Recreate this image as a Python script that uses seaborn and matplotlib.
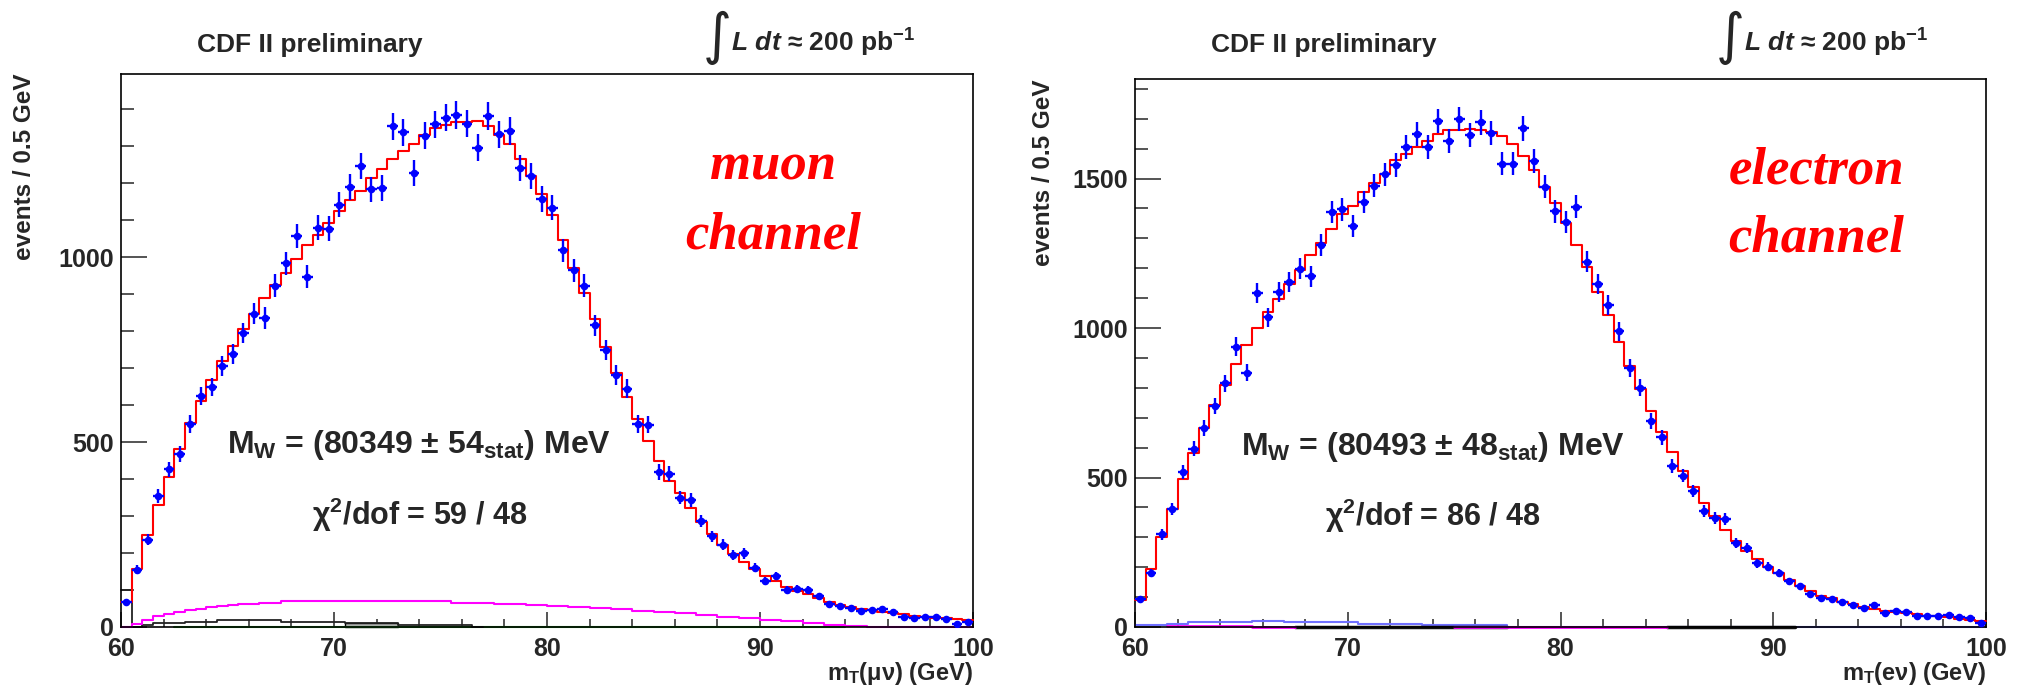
import numpy as np
import matplotlib
matplotlib.use("Agg")
import matplotlib.pyplot as plt
from matplotlib.ticker import MultipleLocator
from matplotlib.transforms import blended_transform_factory
import seaborn as sns

nan = np.nan

# 80 bins of 0.5 GeV in m_T, 60 - 100 GeV
edges = np.linspace(60, 100, 81)
centers = 0.5 * (edges[:-1] + edges[1:])

# ---- muon channel ----
mu_data = [67, 155, 236, 354, 426, 469, 549, 624, 649, 706,
           738, 795, 847, 835, 923, 983, 1058, 947, 1080, 1077,
           1141, 1190, 1247, 1183, 1187, 1354, 1337, 1227, 1328, 1359,
           1377, 1384, 1361, 1296, 1381, 1332, 1341, 1240, 1219, 1157,
           1134, 1018, 965, 923, 816, 748, 681, 644, 549, 547,
           419, 414, 350, 344, 287, 245, 223, 194, 199, 160,
           124, 138, 101, 104, 101, 83, 62, 57, 52, 43,
           45, 49, 41, 26, 24, 26, 26, 21, 8, 13]
mu_fit = [67, 157, 248, 331, 406, 481, 551, 611, 668, 719,
          761, 805, 847, 890, 924, 958, 996, 1032, 1061, 1092,
          1125, 1154, 1180, 1213, 1239, 1266, 1287, 1307, 1330, 1348,
          1356, 1364, 1364, 1368, 1354, 1330, 1306, 1265, 1219, 1170,
          1113, 1046, 970, 904, 833, 758, 688, 623, 561, 502,
          448, 396, 362, 321, 285, 251, 223, 197, 176, 157,
          137, 124, 109, 98, 90, 78, 67, 60, 54, 49,
          45, 41, 37, 34, 31, 28, 25, 23, 21, 19]
mu_magenta = [0, 9, 18, 29, 36, 41, 45, 50, 54, 57,
              60, 63, 63, 66, 66, 69, 69, 69, 69, 69,
              69, 69, 69, 69, 69, 69, 69, 69, 69, 69,
              69, 66, 66, 66, 66, 63, 63, 63, 59, 59,
              57, 57, 54, 54, 51, 51, 48, 48, 44, 44,
              40, 40, 37, 37, 33, 33, 28, 28, 24, 24,
              19, 19, 15, 15, 11, 11, 6, 6, 2, 2,
              1, 1, 1, 1, 1, 1, 1, 1, 1, 1]
mu_black = [100, 0, 5, 11, 11, 12, 14, 14, 14, 18,
            18, 18, 18, 18, 18, 14, 14, 14, 14, 14,
            14, 11, 11, 11, 11, 11, 6, 6, 6, 6,
            6, 6, 6, 0] + [nan] * 46
mu_gray = [nan] * 21 + [10, 10, 10, 10, 10] + [nan] * 54
mu_green = [nan] * 5 + [1] * 63 + [nan] * 12

# ---- electron channel ----
el_data = [92, 181, 310, 395, 519, 597, 666, 740, 816, 938,
           851, 1117, 1036, 1122, 1154, 1199, 1173, 1278, 1387, 1397,
           1342, 1422, 1476, 1514, 1546, 1607, 1649, 1605, 1693, 1626,
           1699, 1645, 1688, 1652, 1550, 1550, 1668, 1559, 1473, 1390,
           1355, 1406, 1222, 1148, 1078, 989, 867, 800, 689, 634,
           540, 506, 455, 389, 364, 361, 281, 265, 213, 202,
           179, 153, 136, 111, 98, 92, 83, 74, 64, 74,
           47, 55, 51, 38, 38, 38, 41, 32, 29, 15]
el_fit = [89, 195, 300, 395, 494, 583, 666, 742, 810, 880,
          944, 999, 1052, 1097, 1148, 1195, 1245, 1286, 1330, 1380,
          1409, 1454, 1486, 1514, 1562, 1582, 1607, 1626, 1648, 1662,
          1662, 1667, 1661, 1656, 1642, 1614, 1575, 1527, 1473, 1418,
          1352, 1279, 1205, 1122, 1043, 954, 874, 795, 724, 651,
          587, 523, 469, 415, 370, 325, 287, 255, 226, 202,
          179, 156, 138, 119, 105, 96, 85, 77, 68, 61,
          55, 51, 47, 42, 38, 36, 32, 28, 23, 19]
el_blue = [6, 6, 6, 10, 10, 16, 16, 16, 16, 16,
           16, 21, 21, 21, 16, 16, 16, 16, 16, 16,
           16, 11, 11, 11, 11, 11, 11, 6, 6, 6,
           6, 6, 6, 6, 6] + [1] * 45
el_magenta = [nan] * 3 + [3] * 8 + [1] * 4 + [nan] * 15 + [0] * 20 + [nan] * 30
el_black = [nan] * 15 + [0] * 20 + [nan] * 15 + [0] * 12 + [nan] * 18


def draw_steps(ax, values, color, lw, fill=False, zorder=2):
    """draw a (possibly partial) step histogram through seaborn"""
    vals = np.array(values, dtype=float)
    idx = np.flatnonzero(~np.isnan(vals))
    runs = np.split(idx, np.flatnonzero(np.diff(idx) > 1) + 1)
    for run in runs:
        if len(run) == 0:
            continue
        kw = dict(element="step", fill=fill, color=color, linewidth=lw,
                  ax=ax, zorder=zorder, clip_on=False)
        if fill:
            kw.update(alpha=1, edgecolor="black")
        sns.histplot(x=list(centers[run]), weights=list(vals[run]),
                     bins=list(edges[run[0]:run[-1] + 2]), **kw)


def draw_panel(fig, ax, data, fit, bkgs, ymax, yticks, words, words_x,
               mw_text, chi_text, xlabel, ylab_x):
    for vals, color, lw, fill in bkgs:
        draw_steps(ax, vals, color, lw, fill=fill, zorder=2)
    draw_steps(ax, fit, "#ff0000", 1.5, zorder=3)

    data = np.array(data, dtype=float)
    ax.errorbar(centers, data, xerr=0.25, yerr=np.sqrt(data), fmt="none",
                ecolor="#0000ff", elinewidth=1.7, capsize=0, zorder=4)
    sns.scatterplot(x=centers, y=data, color="#0000ff", s=30, linewidth=0,
                    ax=ax, zorder=5)

    ax.set_xlim(60, 100)
    ax.set_ylim(0, ymax)
    ax.set_xticks([60, 70, 80, 90, 100])
    ax.xaxis.set_minor_locator(MultipleLocator(2))
    ax.set_yticks(yticks)
    ax.yaxis.set_minor_locator(MultipleLocator(100))
    ax.tick_params(axis="x", which="major", direction="in", length=11, width=1.1,
                   labelsize=18, pad=7.5, top=False)
    ax.tick_params(axis="x", which="minor", direction="in", length=6, width=1.1, top=False)
    ax.tick_params(axis="y", which="major", direction="in", length=19, width=1.1,
                   labelsize=18, pad=5, right=False)
    ax.tick_params(axis="y", which="minor", direction="in", length=9.5, width=1.1, right=False)
    for s in ax.spines.values():
        s.set_visible(True)
        s.set_linewidth(1.2)
        s.set_color("black")
    ax.set_xlabel("")
    ax.set_ylabel("")

    ax.text(ylab_x, 1.0, "events / 0.5 GeV", rotation=90, ha="center", va="top",
            transform=ax.transAxes, fontsize=17.5, fontweight="bold")
    bt = blended_transform_factory(ax.transAxes, fig.transFigure)
    ax.text(1.0, 0.008, xlabel, ha="right", va="baseline", transform=bt,
            fontsize=17, fontweight="bold")

    for word, y in zip(words, (0.810, 0.685)):
        ax.text(words_x, y, word, transform=ax.transAxes, ha="center",
                va="baseline", color="#ff0000", fontsize=38, fontstyle="italic",
                fontweight="bold", family=["Liberation Serif", "DejaVu Serif"])

    ax.text(0.35, 0.314, mw_text, transform=ax.transAxes, ha="center",
            va="baseline", fontsize=23, fontweight="bold")
    ax.text(0.35, 0.185, chi_text, transform=ax.transAxes, ha="center",
            va="baseline", fontsize=22, fontweight="bold")

    ax.text(0.222, 0.924, "CDF II preliminary", transform=bt, ha="center",
            va="baseline", fontsize=19, fontweight="bold")
    ax.text(0.700, 0.945, "\u222b", transform=bt, ha="center", va="center",
            fontsize=40, fontweight="normal", family=["DejaVu Sans"])
    ax.text(0.716, 0.924, r"$\mathit{L\ dt}$ ≈ 200 pb$^{\mathbf{-1}}$",
            transform=bt, ha="left", va="baseline", fontsize=19, fontweight="bold")


sns.set_style("ticks")
plt.rcParams["font.family"] = ["Liberation Sans", "DejaVu Sans"]
plt.rcParams["font.weight"] = "bold"
plt.rcParams["mathtext.fontset"] = "custom"
plt.rcParams["mathtext.rm"] = "Liberation Sans:bold"
plt.rcParams["mathtext.bf"] = "Liberation Sans:bold"
plt.rcParams["mathtext.it"] = "Liberation Sans:italic"

fig = plt.figure(figsize=(20.28, 6.85), dpi=100)
ax_mu = fig.add_axes([121 / 2028, 58 / 685, 852 / 2028, 553 / 685])
ax_el = fig.add_axes([1135 / 2028, 58 / 685, 851 / 2028, 548 / 685])

draw_panel(fig, ax_mu, mu_data, mu_fit,
           [(mu_gray, "#b0b0b0", 1.0, True),
            (mu_green, "#22bb22", 1.5, False),
            (mu_black, "#222222", 1.3, False),
            (mu_magenta, "#ff00ff", 1.5, False)],
           1495, [0, 500, 1000], ("muon", "channel"), 0.765,
           r"M$_{\mathbf{W}}$ = (80349 ± 54$_{\mathbf{stat}}$) MeV",
           r"χ$^{\mathbf{2}}$/dof = 59 / 48",
           r"m$_{\mathbf{T}}$(μν) (GeV)", -0.113)

draw_panel(fig, ax_el, el_data, el_fit,
           [(el_blue, "#7070ff", 1.5, False),
            (el_black, "#111111", 2.5, False),
            (el_magenta, "#ff00ff", 2.0, False)],
           1833, [0, 500, 1000, 1500], ("electron", "channel"), 0.801,
           r"M$_{\mathbf{W}}$ = (80493 ± 48$_{\mathbf{stat}}$) MeV",
           r"χ$^{\mathbf{2}}$/dof = 86 / 48",
           r"m$_{\mathbf{T}}$(eν) (GeV)", -0.108)

fig.savefig("out.png", dpi=100, facecolor="white")
